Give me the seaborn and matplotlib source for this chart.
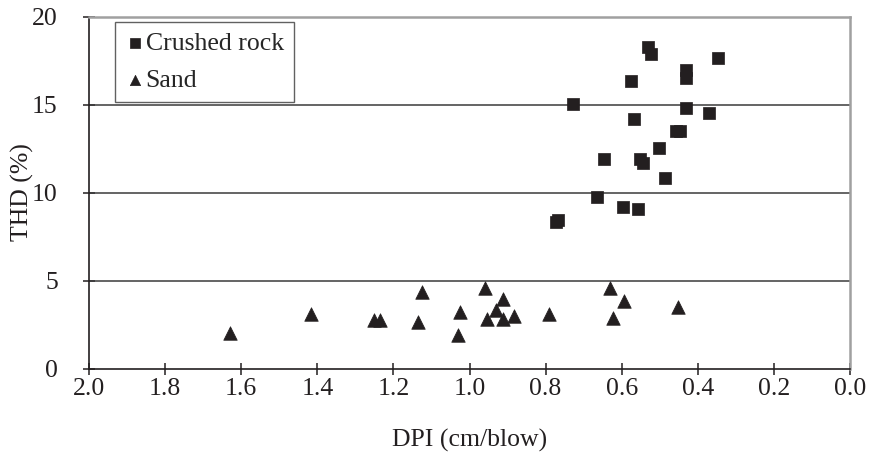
import matplotlib
matplotlib.use("Agg")
import matplotlib.pyplot as plt
import seaborn as sns
import pandas as pd

# Crushed rock data (DPI cm/blow, THD %)
rock_dpi = [0.532, 0.522, 0.346, 0.432, 0.432, 0.576, 0.727, 0.432, 0.370, 0.567,
            0.457, 0.447, 0.502, 0.646, 0.551, 0.545, 0.487, 0.666, 0.596, 0.557,
            0.767, 0.773]
rock_thd = [18.28, 17.85, 17.63, 16.96, 16.52, 16.34, 15.03, 14.82, 14.50, 14.16,
            13.51, 13.51, 12.55, 11.88, 11.92, 11.66, 10.80, 9.73, 9.19, 9.08,
            8.44, 8.31]

# Sand data
sand_dpi = [1.629, 1.416, 1.250, 1.236, 1.124, 1.135, 1.024, 1.030, 0.959, 0.913,
            0.931, 0.953, 0.913, 0.884, 0.792, 0.631, 0.593, 0.622, 0.451]
sand_thd = [2.00, 3.08, 2.73, 2.73, 4.36, 2.65, 3.19, 1.89, 4.60, 3.97,
            3.30, 2.79, 2.79, 3.01, 3.12, 4.60, 3.84, 2.85, 3.48]

x_ticks = [2.0, 1.8, 1.6, 1.4, 1.2, 1.0, 0.8, 0.6, 0.4, 0.2, 0.0]
y_ticks = [0, 5, 10, 15, 20]

rock = pd.DataFrame({"DPI": rock_dpi, "THD": rock_thd, "Material": "Crushed rock"})
sand = pd.DataFrame({"DPI": sand_dpi, "THD": sand_thd, "Material": "Sand"})

sns.set_theme(style="white")
plt.rcParams["font.family"] = ["Liberation Serif", "DejaVu Serif"]

fig = plt.figure(figsize=(8.71, 4.57), dpi=100)
ax = fig.add_axes([89 / 871, 1 - 368.5 / 457, (850 - 89) / 871, (368.5 - 16.5) / 457])

mark_col = "#231f20"
sns.scatterplot(data=rock, x="DPI", y="THD", marker="s", s=70, color=mark_col,
                edgecolor=mark_col, linewidth=0.5, label="Crushed rock", ax=ax, zorder=3)
sns.scatterplot(data=sand, x="DPI", y="THD", marker="^", s=95, color=mark_col,
                edgecolor=mark_col, linewidth=0.5, label="Sand", ax=ax, zorder=3)

ax.set_xlim(2.0, 0.0)
ax.set_ylim(0, 20)
ax.set_xticks(x_ticks)
ax.set_xticklabels([f"{t:.1f}" for t in x_ticks])
ax.set_yticks(y_ticks)
ax.set_yticklabels([str(t) for t in y_ticks])

for yv in [5, 10, 15]:
    ax.axhline(yv, color="#3a3a3a", lw=1.1, zorder=1)

for side in ["left", "bottom"]:
    ax.spines[side].set_color("#231f20")
    ax.spines[side].set_linewidth(1.2)
for side in ["top", "right"]:
    ax.spines[side].set_color("#a0a0a0")
    ax.spines[side].set_linewidth(1.8)

ax.tick_params(axis="both", direction="inout", length=9, width=1.1, color="#231f20",
               labelsize=18.5, labelcolor="#231f20")
ax.tick_params(axis="x", pad=2)
ax.tick_params(axis="y", pad=18)
ax.tick_params(top=False, right=False, bottom=True, left=True)

ax.set_xlabel("DPI (cm/blow)", fontsize=18.5, color="#231f20", labelpad=21)
ax.set_ylabel("THD (%)", fontsize=18.5, color="#231f20", labelpad=-1.5)

leg = ax.legend(loc="upper left", bbox_to_anchor=(0.034, 0.985), frameon=True,
                fancybox=False, fontsize=18.5, handletextpad=0.0, handlelength=0.8,
                borderpad=0.4, labelspacing=0.55, borderaxespad=0)
leg.get_frame().set_edgecolor("#3a3a3a")
leg.get_frame().set_linewidth(1.0)
for h in leg.legend_handles:
    h.set_sizes([55])

fig.savefig("out.png", dpi=100)
